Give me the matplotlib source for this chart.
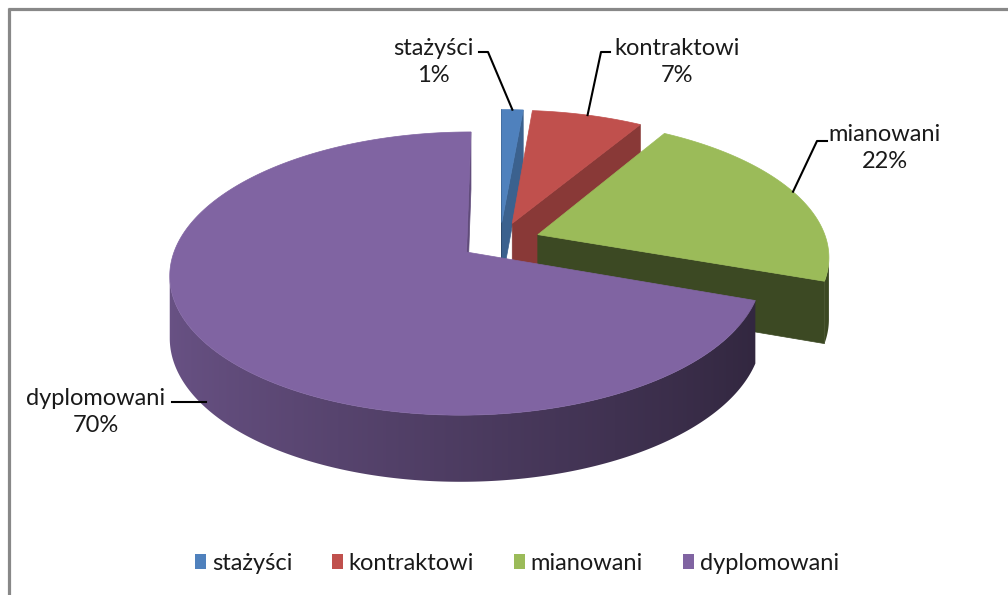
import numpy as np
import matplotlib
matplotlib.use("Agg")
import matplotlib.pyplot as plt
from matplotlib.patches import Polygon, Patch
from matplotlib.colors import to_rgb

# ---------------- data ----------------
categories = ["stażyści", "kontraktowi", "mianowani", "dyplomowani"]
values = [1.4, 7.2, 21.8, 69.6]
colors = ["#4F81BD", "#C0504D", "#9BBB59", "#8064A2"]

plt.rcParams['font.family'] = ['Lato', 'DejaVu Sans']
TEXT = '#1a1a1a'
FS = 17

W, H = 1008, 595
fig = plt.figure(figsize=(W / 100, H / 100), dpi=100)
ax = fig.add_axes([0, 0, 1, 1])
ax.set_xlim(0, W)
ax.set_ylim(H, 0)
ax.axis('off')

# projection of the 3-D pie (layout parameters)
CX, CY, A, B, K, D, EXPL = 500, 241, 289, 135, 0.15, 61, 0.14


def proj(u, v, z):
    w = 1 + K * v
    return (CX + A * u / w, CY - B * v / w + D * z / np.sqrt(w))


def shade(c, f):
    r, g, b = to_rgb(c)
    return np.array([r * f, g * f, b * f])


def signed_area(pts):
    x = np.array([p[0] for p in pts])
    y = np.array([p[1] for p in pts])
    return 0.5 * np.sum(x * np.roll(y, -1) - np.roll(x, -1) * y)


total = sum(values)
fr = np.array(values) / total
ends = np.cumsum(fr) * 360
starts = ends - fr * 360

items, tops, geo = [], [], []
for s, e, col in zip(starts, ends, colors):
    mid = np.radians((s + e) / 2)
    ou, ov = EXPL * np.sin(mid), EXPL * np.cos(mid)
    geo.append((ou, ov, mid))
    n = max(3, int(np.ceil((e - s) * 2)) + 1)
    th = np.radians(np.linspace(s, e, n))
    ru, rv = ou + np.sin(th), ov + np.cos(th)
    tops.append(([proj(ou, ov, 0)] + [proj(a, b, 0) for a, b in zip(ru, rv)], col))
    # visible outer wall segments -> one gradient piece
    vis = []
    for j in range(n - 1):
        q = [proj(ru[j], rv[j], 0), proj(ru[j + 1], rv[j + 1], 0),
             proj(ru[j + 1], rv[j + 1], 1), proj(ru[j], rv[j], 1)]
        vis.append(signed_area(q) < 0)
    idx = [j for j, ok in enumerate(vis) if ok]
    if idx:
        j0, j1 = idx[0], idx[-1] + 1
        topr = [proj(ru[j], rv[j], 0) for j in range(j0, j1 + 1)]
        botr = [proj(ru[j], rv[j], 1) for j in range(j0, j1 + 1)]
        poly = topr + botr[::-1]
        xs = np.array([p[0] for p in botr])
        fs = 0.6 - 0.22 * np.sin(th[j0:j1 + 1])
        items.append((np.mean(rv[j0:j1 + 1]), 'wall', poly, (col, xs, fs)))
    for ang, kind in ((th[0], 'start'), (th[-1], 'end')):
        pu, pv = ou + np.sin(ang), ov + np.cos(ang)
        if kind == 'start':
            q = [proj(ou, ov, 0), proj(pu, pv, 0), proj(pu, pv, 1), proj(ou, ov, 1)]
            nu = -np.cos(ang)
        else:
            q = [proj(pu, pv, 0), proj(ou, ov, 0), proj(ou, ov, 1), proj(pu, pv, 1)]
            nu = np.cos(ang)
        if signed_area(q) < 0:
            items.append(((ov + pv) / 2, 'face', q, shade(col, 0.48 + 0.27 * nu)))

items.sort(key=lambda t: -t[0])
for _, kind, poly, info in items:
    if kind == 'face':
        ax.add_patch(Polygon(poly, closed=True, facecolor=info, edgecolor=info, lw=0.5))
    else:
        col, xs, fs = info
        P = np.array(poly)
        x0, x1 = P[:, 0].min() - 1, P[:, 0].max() + 1
        y0, y1 = P[:, 1].min() - 1, P[:, 1].max() + 1
        gx = np.linspace(x0, x1, max(2, int(x1 - x0)))
        order = np.argsort(xs)
        f = np.interp(gx, xs[order], fs[order])
        img = np.array([shade(col, fv) for fv in f])[None, :, :]
        mid_c = shade(col, float(np.mean(fs)))
        patch = Polygon(poly, closed=True, facecolor='none', edgecolor='none')
        ax.add_patch(patch)
        im = ax.imshow(img, extent=(x0, x1, y1, y0), aspect='auto',
                       interpolation='bilinear', zorder=1)
        im.set_clip_path(patch)
        ax.set_xlim(0, W)
        ax.set_ylim(H, 0)
for poly, c in tops:
    ax.add_patch(Polygon(poly, closed=True, facecolor=c, edgecolor=c, lw=0.5, zorder=2))

# ---------------- data labels ----------------
label_pos = [(433, 62), (677, 62), (885, 148), (96, 412)]
leader_start = [[(479, 52), (488, 52)], [(610, 52), (601, 52)],
                [(827, 141), (817, 141)], [(172, None)]]
leader_z = [0, 0, 0, 0.97]

for cat, v, (ou, ov, mid), (lx, ly), ls, lz in zip(categories, values, geo,
                                                    label_pos, leader_start, leader_z):
    ax.text(lx, ly, f"{cat}\n{round(v / total * 100)}%", ha='center', va='center',
            fontsize=FS, linespacing=1.3, color=TEXT, zorder=4)
    ex, ey = proj(ou + np.sin(mid), ov + np.cos(mid), lz)
    pts = [(p[0], p[1] if p[1] is not None else ey) for p in ls] + [(ex + (4 if lz else 0), ey)]
    ax.plot([p[0] for p in pts], [p[1] for p in pts], color='black', lw=1.5, zorder=4)

# ---------------- legend ----------------
handles = [Patch(facecolor=c, edgecolor='none', label=cat) for cat, c in zip(categories, colors)]
fig.legend(handles=handles, loc='center', bbox_to_anchor=(517 / W, 1 - 563 / H), ncol=4,
           frameon=False, fontsize=FS, handlelength=0.45, handleheight=0.6,
           handletextpad=0.25, columnspacing=1.7, labelcolor=TEXT)

# ---------------- frame ----------------
ax.plot([8, W], [9, 9], color='#888888', lw=2.3, solid_capstyle='butt', zorder=5)
ax.plot([9, 9], [8, H], color='#888888', lw=2.3, solid_capstyle='butt', zorder=5)

fig.savefig("out.png", dpi=100)
